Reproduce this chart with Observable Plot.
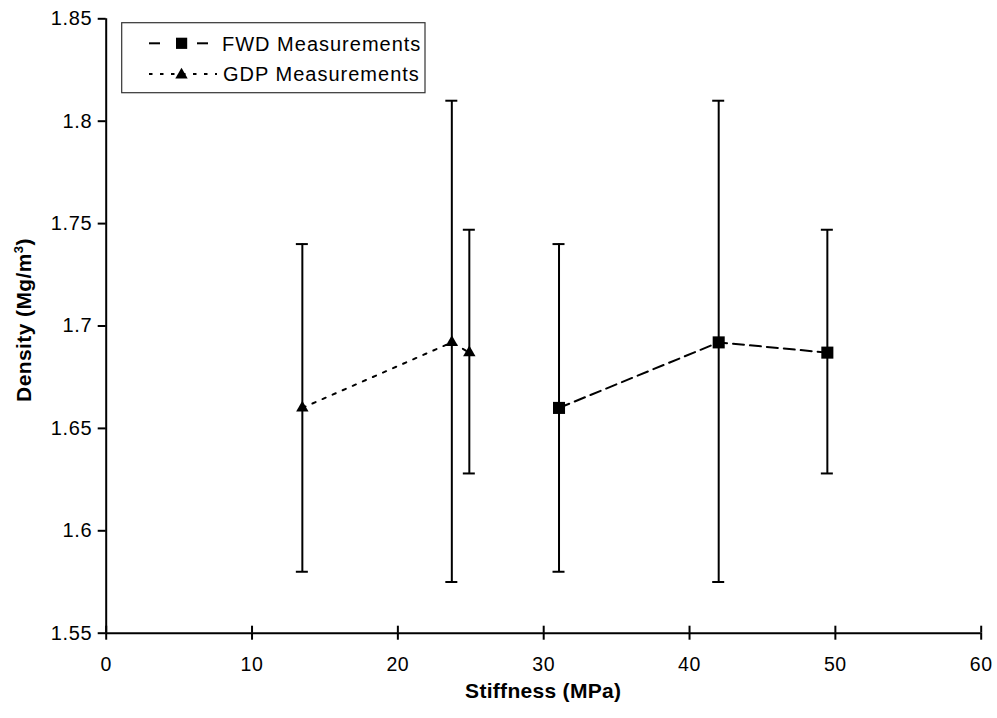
<!DOCTYPE html>
<html>
<head>
<meta charset="utf-8">
<script src="https://cdn.jsdelivr.net/npm/d3@7"></script>
<script src="https://cdn.jsdelivr.net/npm/@observablehq/plot@0.6"></script>
<style>
  html, body { margin: 0; padding: 0; background: #fff; }
  #chart { width: 997px; height: 718px; }
  text { font-family: "Liberation Sans", Arial, sans-serif; }
</style>
</head>
<body>
<div id="chart"></div>
<script>
// ---- data ----
const seriesNames = ["FWD Measurements", "GDP Measurements"];
const stiffnessFWD = [31.05, 42.0, 49.45];
const densityFWD   = [1.66, 1.692, 1.687];
const lowFWD       = [1.58, 1.575, 1.628];
const highFWD      = [1.74, 1.81, 1.747];
const stiffnessGDP = [13.45, 23.7, 24.9];
const densityGDP   = [1.66, 1.692, 1.687];
const lowGDP       = [1.58, 1.575, 1.628];
const highGDP      = [1.74, 1.81, 1.747];
const xTicks = [0, 10, 20, 30, 40, 50, 60];
const yTicks = [1.55, 1.6, 1.65, 1.7, 1.75, 1.8, 1.85];
const xTitle = "Stiffness (MPa)";

const fwd = stiffnessFWD.map((x, i) => ({x, y: densityFWD[i], lo: lowFWD[i], hi: highFWD[i]}));
const gdp = stiffnessGDP.map((x, i) => ({x, y: densityGDP[i], lo: lowGDP[i], hi: highGDP[i]}));
const all = fwd.concat(gdp);

const W = 997, H = 718;
const mL = 105.7, mR = 16.3, mT = 18.3, mB = 85.3;

const chart = Plot.plot({
  width: W,
  height: H,
  marginLeft: mL,
  marginRight: mR,
  marginTop: mT,
  marginBottom: mB,
  style: {fontFamily: "'Liberation Sans', Arial, sans-serif", fontSize: "19px", background: "white", color: "black", letterSpacing: "0.6px"},
  x: {domain: [0, 60], nice: false},
  y: {domain: [1.55, 1.85], nice: false},
  marks: [
    Plot.axisY({ticks: yTicks, tickSize: 8, tickPadding: 6, tickFormat: d => String(+d.toFixed(2)), label: null, strokeWidth: 2, fill: "black", fontSize: 20}),
    Plot.axisX({ticks: xTicks, tickSize: 7, tickPadding: 17, tickFormat: d => String(d), label: null, strokeWidth: 2, fill: "black", fontSize: 19.5}),
    Plot.ruleX(xTicks, {y1: 1.55, y2: 1.55, insetTop: -7, stroke: "black", strokeWidth: 2}),
    Plot.ruleX([0], {stroke: "black", strokeWidth: 2}),
    Plot.ruleY([1.55], {stroke: "black", strokeWidth: 2}),
    // error bars
    Plot.ruleX(all, {x: "x", y1: "lo", y2: "hi", stroke: "black", strokeWidth: 2}),
    Plot.ruleY(all, {y: "hi", x1: "x", x2: "x", insetLeft: -6, insetRight: -6, stroke: "black", strokeWidth: 2}),
    Plot.ruleY(all, {y: "lo", x1: "x", x2: "x", insetLeft: -6, insetRight: -6, stroke: "black", strokeWidth: 2}),
    // series lines
    Plot.line(fwd, {x: "x", y: "y", stroke: "black", strokeWidth: 2, strokeDasharray: "11,6"}),
    Plot.line(gdp, {x: "x", y: "y", stroke: "black", strokeWidth: 2, strokeDasharray: "3.5,7.5"}),
    // markers
    Plot.dot(fwd, {x: "x", y: "y", symbol: "square", r: 6.8, fill: "black", stroke: "none"}),
    Plot.dot(gdp, {x: "x", y: "y", symbol: "triangle", r: 4.6, fill: "black", stroke: "none"})
  ]
});

document.getElementById("chart").appendChild(chart);

const svg = d3.select(chart);

// axis titles
svg.append("text")
  .attr("x", (mL + W - mR) / 2)
  .attr("y", 698)
  .attr("text-anchor", "middle")
  .style("font-weight", "bold")
  .style("font-size", "21px")
  .style("letter-spacing", "0.3px")
  .attr("fill", "black")
  .text(xTitle);

const yt = svg.append("text")
  .attr("transform", "translate(31,320) rotate(-90)")
  .attr("text-anchor", "middle")
  .style("font-weight", "bold")
  .style("font-size", "21px")
  .style("letter-spacing", "0.4px")
  .attr("fill", "black");
yt.append("tspan").text("Density (Mg/m");
yt.append("tspan").attr("dy", -8).style("font-size", "13px").text("3");
yt.append("tspan").attr("dy", 8).text(")");

// legend
const lg = svg.append("g");
lg.append("rect")
  .attr("x", 121.7).attr("y", 22.7).attr("width", 303.3).attr("height", 70)
  .attr("fill", "white").attr("stroke", "#333").attr("stroke-width", 1.2);
const rows = [43.3, 74];
// FWD row
lg.append("line").attr("x1", 149).attr("x2", 160).attr("y1", rows[0]).attr("y2", rows[0]).attr("stroke", "black").attr("stroke-width", 2);
lg.append("line").attr("x1", 197).attr("x2", 208).attr("y1", rows[0]).attr("y2", rows[0]).attr("stroke", "black").attr("stroke-width", 2);
lg.append("rect").attr("x", 176).attr("y", rows[0] - 5.6).attr("width", 11.2).attr("height", 11.2).attr("fill", "black");
// GDP row
lg.append("line").attr("x1", 149).attr("x2", 217).attr("y1", rows[1]).attr("y2", rows[1]).attr("stroke", "black").attr("stroke-width", 2).attr("stroke-dasharray", "3.5,7.5");
lg.append("path").attr("d", d3.symbol(d3.symbolTriangle, 4.6 * 4.6 * Math.PI)()).attr("transform", `translate(181.5,${rows[1] + 1})`).attr("fill", "black");
[seriesNames[0], seriesNames[1]].forEach((name, i) => {
  lg.append("text")
    .attr("x", i === 0 ? 222 : 223)
    .attr("y", rows[i])
    .attr("dy", "0.36em")
    .attr("text-anchor", "start")
    .style("font-size", "20px")
    .style("letter-spacing", "1px")
    .attr("fill", "black")
    .text(name);
});
</script>
</body>
</html>
